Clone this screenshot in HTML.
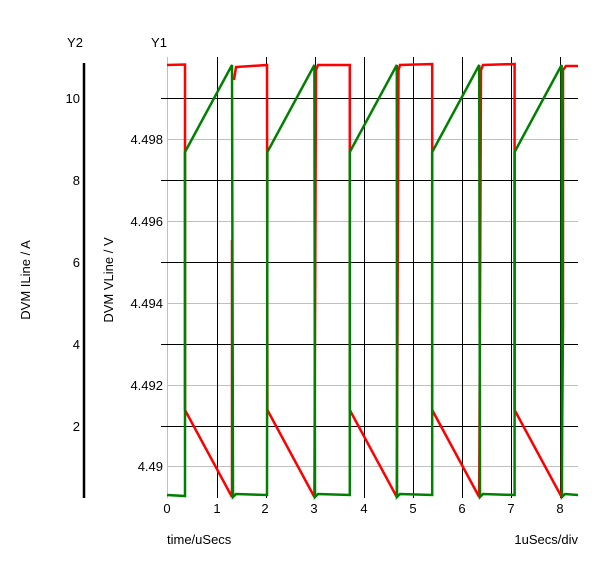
<!DOCTYPE html>
<html><head><style>
body{margin:0;background:#fff;}
svg text{font-family:"Liberation Sans",sans-serif;font-size:13px;fill:#000;}
</style></head><body>
<svg width="600" height="563" xmlns="http://www.w3.org/2000/svg">
<g stroke="#c0c0c0" stroke-width="1">
<line x1="167.5" y1="57" x2="167.5" y2="498"/>
<line x1="167" y1="139.5" x2="578" y2="139.5"/>
<line x1="167" y1="221.5" x2="578" y2="221.5"/>
<line x1="167" y1="303.5" x2="578" y2="303.5"/>
<line x1="167" y1="385.5" x2="578" y2="385.5"/>
<line x1="167" y1="466.5" x2="578" y2="466.5"/>
</g>
<g stroke="#000" stroke-width="1">
<line x1="161" y1="98.5" x2="578" y2="98.5"/>
<line x1="161" y1="180.5" x2="578" y2="180.5"/>
<line x1="161" y1="262.5" x2="578" y2="262.5"/>
<line x1="161" y1="344.5" x2="578" y2="344.5"/>
<line x1="161" y1="426.5" x2="578" y2="426.5"/>
<line x1="217.5" y1="57" x2="217.5" y2="498"/>
<line x1="266.5" y1="57" x2="266.5" y2="498"/>
<line x1="315.5" y1="57" x2="315.5" y2="498"/>
<line x1="364.5" y1="57" x2="364.5" y2="498"/>
<line x1="413.5" y1="57" x2="413.5" y2="498"/>
<line x1="462.5" y1="57" x2="462.5" y2="498"/>
<line x1="511.5" y1="57" x2="511.5" y2="498"/>
<line x1="560.5" y1="57" x2="560.5" y2="498"/>
</g>
<line x1="84" y1="63" x2="84" y2="498" stroke="#000" stroke-width="2.5"/>
<g fill="none" stroke-width="2.5" stroke-linejoin="miter">
<path stroke="#ff0000" d="M167,65 L185,64.5 L185,410 L232,497 L232,240 M234,80 L236,67 L267,65 L267.4,410 L314.4,497 L316,70 L318,65 L349.8,65 L349.8,410 L396.8,497 L398.5,70 L400,65 L432.2,64 L432.2,410 L479.2,497 L481,70 L483,65 L514.6,64 L514.6,410 L561.6,497 L563,325 L563,70 L566,66 L578,66"/>
<path stroke="#008000" d="M167,495 L185,496 L185,152 L232,65 L233,497 L236,494 L267,495 L267.4,152 L314.4,65 L315,497 L318,494 L349.8,495 L349.8,152 L396.8,65 L397,497 L400,494 L432.2,495 L432.2,152 L479.2,65 L480,497 L483,494 L514.6,495 L514.6,152 L561.6,65 L562,497 L565,494 L578,495"/>
</g>
<text x="75" y="47" text-anchor="middle">Y2</text>
<text x="159" y="47" text-anchor="middle">Y1</text>
<g text-anchor="end">
<text x="80" y="103">10</text><text x="80" y="185">8</text><text x="80" y="267">6</text><text x="80" y="349">4</text><text x="80" y="431">2</text>
<text x="163" y="144">4.498</text><text x="163" y="226">4.496</text><text x="163" y="308">4.494</text><text x="163" y="390">4.492</text><text x="163" y="471">4.49</text>
</g>
<g text-anchor="middle">
<text x="167" y="513">0</text><text x="217" y="513">1</text><text x="265" y="513">2</text><text x="314" y="513">3</text><text x="364" y="513">4</text><text x="413" y="513">5</text><text x="462" y="513">6</text><text x="511" y="513">7</text><text x="560" y="513">8</text>
</g>
<text x="30" y="280" text-anchor="middle" transform="rotate(-90 30 280)">DVM ILine / A</text>
<text x="113" y="280" text-anchor="middle" transform="rotate(-90 113 280)">DVM VLine / V</text>
<text x="167" y="544">time/uSecs</text>
<text x="578" y="544" text-anchor="end">1uSecs/div</text>
</svg>
</body></html>
